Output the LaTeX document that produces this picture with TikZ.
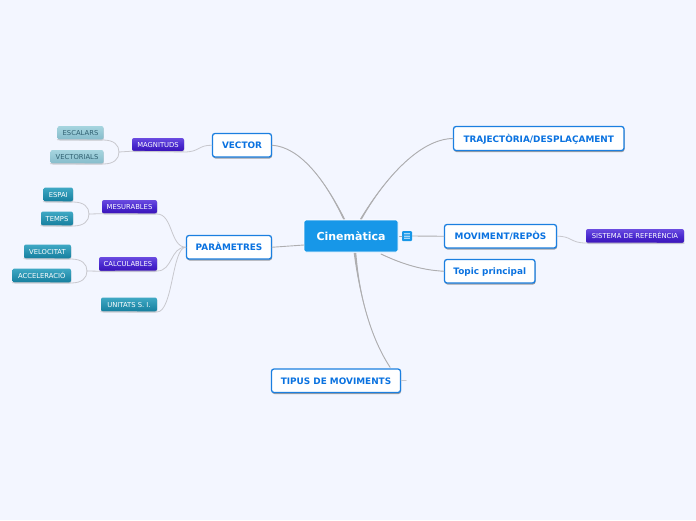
\documentclass[tikz,border=0pt]{standalone}
\usepackage{fontspec}
\setmainfont{DejaVu Sans}
\usetikzlibrary{shadows,calc}
\definecolor{bgc}{HTML}{F3F6FF}
\definecolor{blueb}{HTML}{1B7FE0}
\definecolor{bluet}{HTML}{0A72E0}
\definecolor{centerc}{HTML}{1797E8}
\definecolor{linec}{HTML}{AEAEB0}
\definecolor{linel}{HTML}{C8C8CE}
\definecolor{violetTop}{HTML}{6A4BE0}
\definecolor{violetMid}{HTML}{4A2BD0}
\definecolor{violetBot}{HTML}{3A12B8}
\definecolor{tealTop}{HTML}{3FA8C4}
\definecolor{tealBot}{HTML}{167F9E}
\definecolor{paleTop}{HTML}{A6D5DF}
\definecolor{paleBot}{HTML}{86BCCB}
\definecolor{paleText}{HTML}{2F5F70}
\definecolor{iconin}{HTML}{A6D8F8}
\tikzset{
 x=1pt,y=-1pt,
 mainbox/.style={draw=blueb,line width=1.3pt,fill=white,rounded corners=2.5pt,text=bluet,font=\fontsize{8.9}{10}\selectfont\bfseries,inner sep=0pt,text height=7pt,text depth=0pt,
   drop shadow={shadow xshift=0.5pt,shadow yshift=-1.5pt,opacity=.45,fill=black!80}},
 centerbox/.style={fill=centerc,draw=white,line width=.8pt,rounded corners=2pt,text=white,font=\fontsize{11}{13}\selectfont\bfseries,inner sep=0pt,text height=8.5pt,text depth=0pt},
 smallbase/.style={draw=none,rounded corners=2pt,font=\fontsize{6.8}{8}\selectfont,inner sep=0pt,text height=5.8pt,text depth=0pt,
   drop shadow={shadow xshift=0.4pt,shadow yshift=-1pt,opacity=.25,fill=black!60}},
 violetbox/.style={smallbase,top color=violetTop,bottom color=violetBot,middle color=violetMid,text=white},
 tealbox/.style={smallbase,top color=tealTop,bottom color=tealBot,text=white},
 palebox/.style={smallbase,top color=paleTop,bottom color=paleBot,text=paleText},
 conn/.style={draw=linec,line width=.9pt,line cap=round},
 thin conn/.style={draw=linel,line width=.8pt,line cap=round},
}
\newcommand{\bx}[7]{\node[#1,minimum width=#4-#3,minimum height=#6-#5] (#2) at ({(#3+#4)/2},{(#5+#6)/2}) {#7};}
% tapered connector: start, control 1, control 2, end, half width at start
\newcommand{\taper}[5]{%
 \fill[linec] ($(#1)+(-#5,0)$) .. controls (#2) and (#3) .. (#4) .. controls (#3) and (#2) .. ($(#1)+(#5,0)$) -- cycle;
 \draw[conn] (#1) .. controls (#2) and (#3) .. (#4);}
\begin{document}
\begin{tikzpicture}
\useasboundingbox (0,0) rectangle (696,520);
\fill[bgc] (0,0) rectangle (696,520);

\coordinate (cVec) at (344,219);
\coordinate (cTra) at (361,219);
\coordinate (cPar) at (304,245);
\coordinate (cTop) at (381,254);
\coordinate (cTip) at (355,253);
\coordinate (cStub) at (399.5,236);

% nodes
\bx{centerbox}{c}{304}{398}{220}{252}{Cinemàtica}
\bx{mainbox}{vec}{212.5}{271.5}{133.5}{157}{VECTOR}
\bx{mainbox}{par}{186.5}{271.5}{235.5}{259}{PARÀMETRES}
\bx{mainbox}{tra}{453.5}{624}{126.5}{150.5}{TRAJECTÒRIA/DESPLAÇAMENT}
\bx{mainbox}{mov}{444.5}{556.5}{224.5}{248}{MOVIMENT/REPÒS}
\bx{mainbox}{top}{444.5}{535}{259.5}{283}{Topic principal}
\bx{mainbox}{tip}{271.5}{400.5}{369}{392.5}{TIPUS DE MOVIMENTS}

\bx{violetbox}{sis}{586}{684}{229}{243}{SISTEMA DE REFERÈNCIA}
\bx{violetbox}{mag}{132}{184}{138}{151}{MAGNITUDS}
\bx{violetbox}{mes}{102}{157}{200}{213.5}{MESURABLES}
\bx{violetbox}{cal}{99}{157}{257}{271}{CALCULABLES}
\bx{palebox}{esc}{57.5}{103.5}{126}{139.5}{ESCALARS}
\bx{palebox}{vct}{50.5}{103.5}{150}{163.5}{VECTORIALS}
\bx{tealbox}{esp}{43.5}{73}{187.5}{201.5}{ESPAI}
\bx{tealbox}{tem}{41}{73}{211.5}{225.5}{TEMPS}
\bx{tealbox}{vel}{24}{71}{244.5}{258.5}{VELOCITAT}
\bx{tealbox}{acc}{12.5}{71}{268.5}{282.5}{ACCELERACIÓ}
\bx{tealbox}{uni}{101}{157}{297.5}{311.5}{UNITATS S. I.}

% note icon
\node[fill=centerc,rounded corners=1pt,minimum width=10pt,minimum height=10pt,inner sep=0pt] (ico) at (407,236) {};
\fill[iconin] ([xshift=-3.2pt,yshift=-3.2pt]ico.center) rectangle ([xshift=3.2pt,yshift=3.2pt]ico.center);
\foreach \yy in {-1.2,0.4,2}{\draw[centerc!80!white,line width=.4pt] ([xshift=-3.2pt,yshift=\yy pt]ico.center) -- ([xshift=3.2pt,yshift=\yy pt]ico.center);}

% main connectors
\taper{cVec}{325,180}{300,147}{vec.east}{1}
\taper{cTra}{385,178}{420,139}{tra.west}{1}
\taper{cTop}{400,263}{420,270}{top.west}{.5}
\taper{cTip}{360,300}{372,340}{$(tip.north east)+(-11,-1)$}{1.3}
\draw[conn] (cPar) -- (par.east);
\draw[conn] (ico.east) -- (mov.west);
\draw[conn] (cStub) -- (ico.west);

% thin connectors
\draw[thin conn] (vec.west) .. controls (198,145) and (200,152) .. (184,152) -- (mag.south west) -- (119,152);
\draw[thin conn] (119,152) .. controls (119,145) and (114,140) .. (103,140) -- (esc.south west);
\draw[thin conn] (119,152) .. controls (119,159) and (114,164) .. (103,164) -- (vct.south west);

\draw[thin conn] (par.west) .. controls (170,247) and (173,214) .. (157,214) -- (mes.south west) -- (89,214);
\draw[thin conn] (89,214) .. controls (89,207) and (84,202) .. (73,202) -- (esp.south west);
\draw[thin conn] (89,214) .. controls (89,221) and (84,226) .. (73,226) -- (tem.south west);

\draw[thin conn] (par.west) .. controls (170,247) and (173,271) .. (157,271) -- (cal.south west) -- (87,271);
\draw[thin conn] (87,271) .. controls (87,264) and (82,259) .. (71,259) -- (vel.south west);
\draw[thin conn] (87,271) .. controls (87,278) and (82,283) .. (71,283) -- (acc.south west);

\draw[thin conn] (par.west) .. controls (172,247) and (173,312) .. (157,312) -- (uni.south west);

\draw[thin conn] (mov.east) .. controls (572,236) and (570,243) .. (586,243) -- (sis.south east);
\draw[thin conn] (tip.east) -- ++(5,0);
\end{tikzpicture}
\end{document}
